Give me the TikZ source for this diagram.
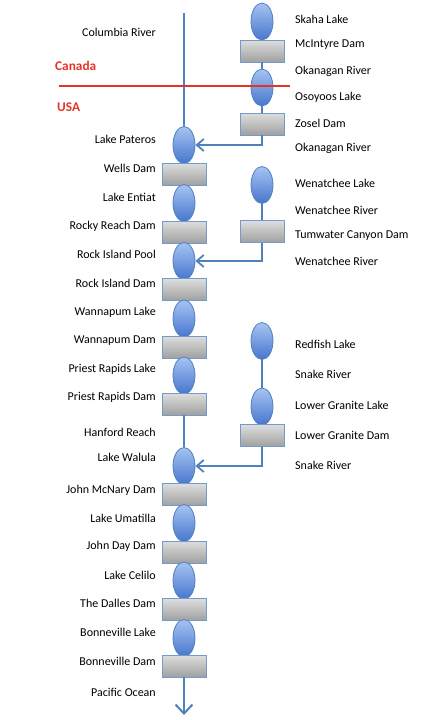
\documentclass[tikz,border=0pt]{standalone}
\usepackage{fontspec}
\setmainfont{Carlito}
\usetikzlibrary{arrows.meta,shapes.geometric}

\definecolor{river}{RGB}{79,129,189}
\definecolor{lakehi}{RGB}{166,196,242}
\definecolor{lakelo}{RGB}{72,118,206}
\definecolor{damhi}{RGB}{222,222,222}
\definecolor{damlo}{RGB}{160,160,160}
\definecolor{border}{RGB}{228,52,40}

\begin{document}
\begin{tikzpicture}[
  x=1pt, y=-1pt,
  font=\fontsize{12}{14}\selectfont,
  lake/.style={ellipse, draw=river, line width=0.8pt, top color=lakehi, bottom color=lakelo,
               minimum width=22, minimum height=37, inner sep=0pt},
  dam/.style={rectangle, draw=river!80, line width=0.8pt, top color=damhi, bottom color=damlo,
              minimum width=44, minimum height=22, inner sep=0pt},
  lft/.style={anchor=east, inner sep=0pt},
  rgt/.style={anchor=west, inner sep=0pt},
  nation/.style={anchor=west, inner sep=0pt, text=border, font=\fontsize{13.3}{15}\selectfont\bfseries},
  flow/.style={draw=river, line width=2.4pt},
  inflow/.style={flow, -{Straight Barb[length=7pt, width=12pt, line width=1.8pt]}},
  seaflow/.style={flow, -{Straight Barb[length=9pt, width=17pt, line width=2pt]}},
]
  \useasboundingbox (0,0) rectangle (432,720);

  % ----- Columbia main stem -----
  \coordinate (src) at (184,13);
  \node[lake] (pateros)  at (184,145)   {};
  \node[dam]  (wells)    at (184,174)   {};
  \node[lake] (entiat)   at (184,203)   {};
  \node[dam]  (rocky)    at (184,232)   {};
  \node[lake] (rockpool) at (184,261)   {};
  \node[dam]  (rockd)    at (184,289.5) {};
  \node[lake] (wannal)   at (184,318.5) {};
  \node[dam]  (wannad)   at (184,347)   {};
  \node[lake] (priestl)  at (184,375.5) {};
  \node[dam]  (priestd)  at (184,404)   {};
  \node[lake] (walula)   at (184,466)   {};
  \node[dam]  (mcnary)   at (184,494.5) {};
  \node[lake] (umatilla) at (184,523)   {};
  \node[dam]  (johnday)  at (184,552)   {};
  \node[lake] (celilo)   at (184,580.5) {};
  \node[dam]  (dalles)   at (184,609.5) {};
  \node[lake] (bonnl)    at (184,638)   {};
  \node[dam]  (bonnd)    at (184,666)   {};
  \coordinate (sea) at (184,715);

  % ----- Okanagan branch -----
  \node[lake] (skaha)    at (262,21.5)  {};
  \node[dam]  (mcintyre) at (262,51)    {};
  \node[lake] (osoyoos)  at (262,87.5)  {};
  \node[dam]  (zosel)    at (262,124)   {};

  % ----- Wenatchee branch -----
  \node[lake] (wenlake)  at (262,185)   {};
  \node[dam]  (tumwater) at (262,231.5) {};

  % ----- Snake branch -----
  \node[lake] (redfish)  at (262,341)   {};
  \node[lake] (lgl)      at (262,406.5) {};
  \node[dam]  (lgd)      at (262,435.5) {};

  % Flows
  \draw[flow]    (src) -- (pateros.north);
  \draw[flow]    (priestd.south) -- (walula.north);
  \draw[seaflow] (bonnd.south) -- (sea);
  \draw[flow]    (mcintyre.south) -- (osoyoos.north);
  \draw[flow]    (osoyoos.south) -- (zosel.north);
  \draw[inflow]  (zosel.south) |- (pateros.east);
  \draw[flow]    (wenlake.south) -- (tumwater.north);
  \draw[inflow]  (tumwater.south) |- (rockpool.east);
  \draw[flow]    (redfish.south) -- (lgl.north);
  \draw[inflow]  (lgd.south) |- (walula.east);

  % ----- Labels, left -----
  \node[lft] at (156,32)  {Columbia River};
  \node[lft] at (156,139) {Lake Pateros};
  \node[lft] at (156,168) {Wells Dam};
  \node[lft] at (156,197) {Lake Entiat};
  \node[lft] at (156,226) {Rocky Reach Dam};
  \node[lft] at (156,254) {Rock Island Pool};
  \node[lft] at (156,283) {Rock Island Dam};
  \node[lft] at (156,312) {Wannapum Lake};
  \node[lft] at (156,341) {Wannapum Dam};
  \node[lft] at (156,369) {Priest Rapids Lake};
  \node[lft] at (156,397) {Priest Rapids Dam};
  \node[lft] at (156,432) {Hanford Reach};
  \node[lft] at (156,457) {Lake Walula};
  \node[lft] at (156,490) {John McNary Dam};
  \node[lft] at (156,518) {Lake Umatilla};
  \node[lft] at (156,546) {John Day Dam};
  \node[lft] at (156,575) {Lake Celilo};
  \node[lft] at (156,603) {The Dalles Dam};
  \node[lft] at (156,632) {Bonneville Lake};
  \node[lft] at (156,661) {Bonneville Dam};
  \node[lft] at (156,692) {Pacific Ocean};

  % ----- Labels, right -----
  \node[rgt] at (295,19)  {Skaha Lake};
  \node[rgt] at (295,45)  {McIntyre Dam};
  \node[rgt] at (295,71)  {Okanagan River};
  \node[rgt] at (295,97)  {Osoyoos Lake};
  \node[rgt] at (295,123) {Zosel Dam};
  \node[rgt] at (295,148) {Okanagan River};
  \node[rgt] at (295,183) {Wenatchee Lake};
  \node[rgt] at (295,210) {Wenatchee River};
  \node[rgt] at (295,236) {Tumwater Canyon Dam};
  \node[rgt] at (295,261) {Wenatchee River};
  \node[rgt] at (295,344) {Redfish Lake};
  \node[rgt] at (295,374) {Snake River};
  \node[rgt] at (295,405) {Lower Granite Lake};
  \node[rgt] at (295,435) {Lower Granite Dam};
  \node[rgt] at (295,465) {Snake River};

  % ----- Border -----
  \node[nation] (canada) at (55,66)  {Canada};
  \node[nation] (usa)    at (57,107) {USA};
  \draw[border, line width=2.6pt] (59,86) -- (290,86);
\end{tikzpicture}
\end{document}
